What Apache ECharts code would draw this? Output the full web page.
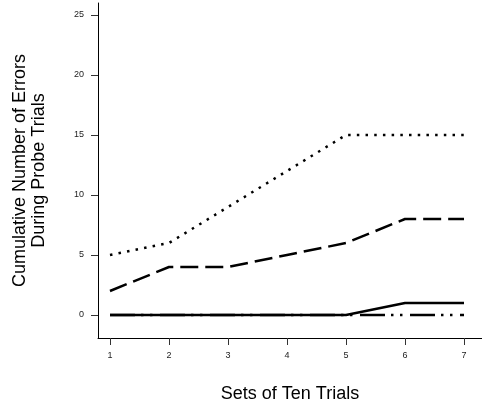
<!DOCTYPE html>
<html>
<head>
<meta charset="utf-8">
<script src="https://cdn.jsdelivr.net/npm/echarts@6/dist/echarts.min.js"></script>
<style>
  html, body { margin: 0; padding: 0; background: #fff; }
  #chart { width: 482px; height: 412px; }
</style>
</head>
<body>
<div id="chart"></div>
<script>
// sets of ten trials
const sets = [1, 2, 3, 4, 5, 6, 7]
const yTicks = [0, 5, 10, 15, 20, 25]
// cumulative errors per group
const dotted = [5, 6, 9, 12, 15, 15, 15]
const dashed = [2, 4, 4, 5, 6, 8, 8]
const solid = [0, 0, 0, 0, 0, 1, 1]
const dashDot = [0, 0, 0, 0, 0, 0, 0]

function pairs(vals) {
  return sets.map((s, i) => [s, vals[i]])
}

function line(name, vals, type) {
  return {
    name: name,
    type: 'line',
    symbol: 'none',
    silent: true,
    data: pairs(vals),
    lineStyle: {
      color: '#000',
      width: 2.5,
      type: type,
      cap: 'butt'
    }
  }
}

let option = {
  animation: false,
  textStyle: { fontFamily: 'Liberation Sans, Arial, sans-serif' },
  grid: {
    left: 98,
    right: 0,
    top: 3,
    bottom: 74
  },
  xAxis: {
    type: 'value',
    min: 0.797,
    max: 7.305,
    name: 'Sets of Ten Trials',
    nameLocation: 'middle',
    nameGap: 47,
    nameTextStyle: { fontSize: 18, color: '#000' },
    splitLine: { show: false },
    axisLine: { onZero: false, lineStyle: { color: '#000', width: 1 } },
    axisTick: {
      length: 7,
      lineStyle: { color: '#333' },
      customValues: sets
    },
    axisLabel: {
      fontSize: 9,
      color: '#222',
      margin: 13,
      customValues: sets
    }
  },
  yAxis: {
    type: 'value',
    min: -1.917,
    max: 26,
    name: 'Cumulative Number of Errors\nDuring Probe Trials',
    nameLocation: 'middle',
    nameGap: 49,
    nameTextStyle: { fontSize: 18, color: '#000', lineHeight: 19 },
    splitLine: { show: false },
    axisLine: { show: true, onZero: false, lineStyle: { color: '#000', width: 1 } },
    axisTick: {
      show: true,
      length: 7,
      lineStyle: { color: '#333' },
      customValues: yTicks
    },
    axisLabel: {
      fontSize: 9,
      color: '#222',
      margin: 14,
      customValues: yTicks
    }
  },
  series: [
    line('dotted', dotted, [2.5, 6.2]),
    line('dashed', dashed, [18, 7]),
    line('dashdot', dashDot, [25, 6, 2.5, 6.5, 2.5, 7.5]),
    line('solid', solid, 'solid')
  ]
}

let myChart = echarts.init(document.getElementById('chart'))
myChart.setOption(option)
</script>
</body>
</html>
